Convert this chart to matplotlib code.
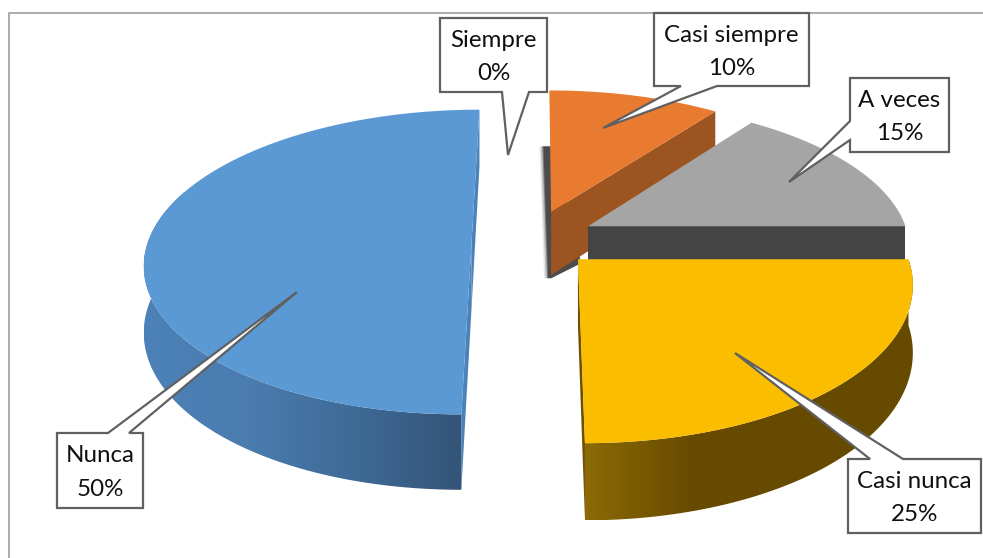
#!/usr/bin/env python3

import numpy as np
from matplotlib import pyplot as plt
from matplotlib.colors import LinearSegmentedColormap
from matplotlib.patches import Polygon

categories = ['Siempre', 'Casi siempre', 'A veces', 'Casi nunca', 'Nunca']
percent = [0, 10, 15, 25, 50]

# pie look, one entry per slice
TOP_COLORS = ['#5A5A5A', '#E87B30', '#A5A5A5', '#FBBD00', '#5B99D5']
RADIAL_COLORS = ['#5A5A5A', '#9C5420', '#444444', '#6E5000', '#4C82BA']
EXPLODE = [(0.0, 0.0), (0.047, 0.20), (0.16, 0.10), (0.125, -0.12), (-0.195, 0.0)]
RADIUS_X = [1.0, 0.97, 0.975, 0.985, 0.98]
RADIUS_Z = [1.0, 0.97, 0.975, 1.02, 1.0]

# perspective camera, screen pixels
VX, VY = 536, -842
SCALE_X, SCALE_Y, THICK = 330, 1083, 65
PERSP = 0.138


def project(x, z, lower=False):
    w = 1 / (1 + PERSP * z)
    return VX + SCALE_X * x * w, VY + (SCALE_Y + (THICK if lower else 0)) * w


def arc_points(i, a0, a1, lower=False):
    t = np.radians(np.linspace(a0, a1, 120))
    ox, oz = EXPLODE[i]
    return project(ox + RADIUS_X[i] * np.sin(t), oz + RADIUS_Z[i] * np.cos(t), lower)


def gradient_wall(i, a0, a1, colors, zorder):
    xt, yt = arc_points(i, a0, a1)
    xb, yb = arc_points(i, a0, a1, lower=True)
    pts = np.r_[np.c_[xt, yt], np.c_[xb, yb][::-1]]
    patch = Polygon(pts, closed=True, fc='none', ec='none', zorder=zorder)
    ax.add_patch(patch)
    cmap = LinearSegmentedColormap.from_list('wall', colors)
    im = ax.imshow(np.linspace(0, 1, 256)[None, :], cmap=cmap, aspect='auto', zorder=zorder,
                   extent=(pts[:, 0].min(), pts[:, 0].max(), pts[:, 1].max(), pts[:, 1].min()))
    im.set_clip_path(patch)


def radial_wall(i, angle, zorder):
    ox, oz = EXPLODE[i]
    t = np.radians(angle)
    ex, ez = ox + RADIUS_X[i] * np.sin(t), oz + RADIUS_Z[i] * np.cos(t)
    pts = [project(ox, oz), project(ex, ez), project(ex, ez, True), project(ox, oz, True)]
    ax.add_patch(Polygon(pts, closed=True, fc=RADIAL_COLORS[i], ec='none', zorder=zorder))


def top_face(i, a0, a1, zorder):
    x, y = arc_points(i, a0, a1)
    cx, cy = project(*EXPLODE[i])
    pts = np.r_[[[cx, cy]], np.c_[x, y]]
    ax.add_patch(Polygon(pts, closed=True, fc=TOP_COLORS[i], ec='none', zorder=zorder))


def callout(verts, center, text):
    ax.add_patch(Polygon(verts, closed=True, fc='white', ec='#606060', lw=1.6, zorder=20,
                         joinstyle='miter'))
    ax.text(center[0], center[1] + 2, text, ha='center', va='center', fontsize=17.4, color='#101010',
            family='Lato', linespacing=1.75, zorder=21)


fig = plt.figure(figsize=(9.83, 5.58), dpi=100)
ax = fig.add_axes([0, 0, 1, 1])

# cumulative angles, clockwise from the top
ends = np.cumsum(percent) * 3.6
starts = np.r_[0, ends[:-1]]

# frame of the chart area
ax.plot([8.5, 8.5, 983], [558, 13, 13], color='#A6A6A6', lw=1.3, zorder=1)

# soft shadow behind the orange slice
ox, oz = EXPLODE[1]
back = project(ox, oz + RADIUS_Z[1], True)
front = project(ox, oz, True)
for off, alpha in [(10, 0.12), (8.5, 0.25), (7, 0.5), (6, 0.8)]:
    ax.add_patch(Polygon([(back[0] - off, back[1]), (back[0] + 3, back[1]),
                          (front[0] + 30, front[1] - 12), (front[0], front[1] + 3),
                          (front[0] - off + 3, front[1] + 3)],
                         closed=True, fc='#404040', ec='none', alpha=alpha, zorder=2))

radial_wall(1, ends[1], 3)
top_face(1, starts[1], ends[1], 4)

radial_wall(2, ends[2], 5)
top_face(2, starts[2], ends[2], 6)

radial_wall(4, starts[4], 7)
radial_wall(4, ends[4], 7)
gradient_wall(4, starts[4], 290, ['#4C82B8', '#4A7CAE', '#3E6A96', '#345478'], 7)
top_face(4, starts[4], ends[4], 8)

radial_wall(3, ends[3], 9)
gradient_wall(3, starts[3], ends[3], ['#8C6A05', '#664A00', '#664A00', '#664A00'], 9)
top_face(3, starts[3], ends[3], 10)

labels = [f'{c}\n{p}%' for c, p in zip(categories, percent)]
callout([(440, 18), (547, 18), (547, 92), (529, 92), (508, 155), (502, 92), (440, 92)],
        (493.5, 55), labels[0])
callout([(654, 13), (809, 13), (809, 86), (717, 86), (603, 128), (681, 86), (654, 86)],
        (731.5, 50), labels[1])
callout([(850, 78), (949, 78), (949, 152), (850, 152), (850, 140), (789, 182), (850, 121)],
        (899.5, 115), labels[2])
callout([(848, 459), (870, 459), (735, 353), (903, 459), (981, 459), (981, 533), (848, 533)],
        (914.5, 496), labels[3])
callout([(57, 433), (108, 433), (297, 292), (129, 433), (143, 433), (143, 508), (57, 508)],
        (100, 470.5), labels[4])

ax.set_xlim(0, 983)
ax.set_ylim(558, 0)
ax.axis('off')
fig.savefig('out.png', dpi=100)
